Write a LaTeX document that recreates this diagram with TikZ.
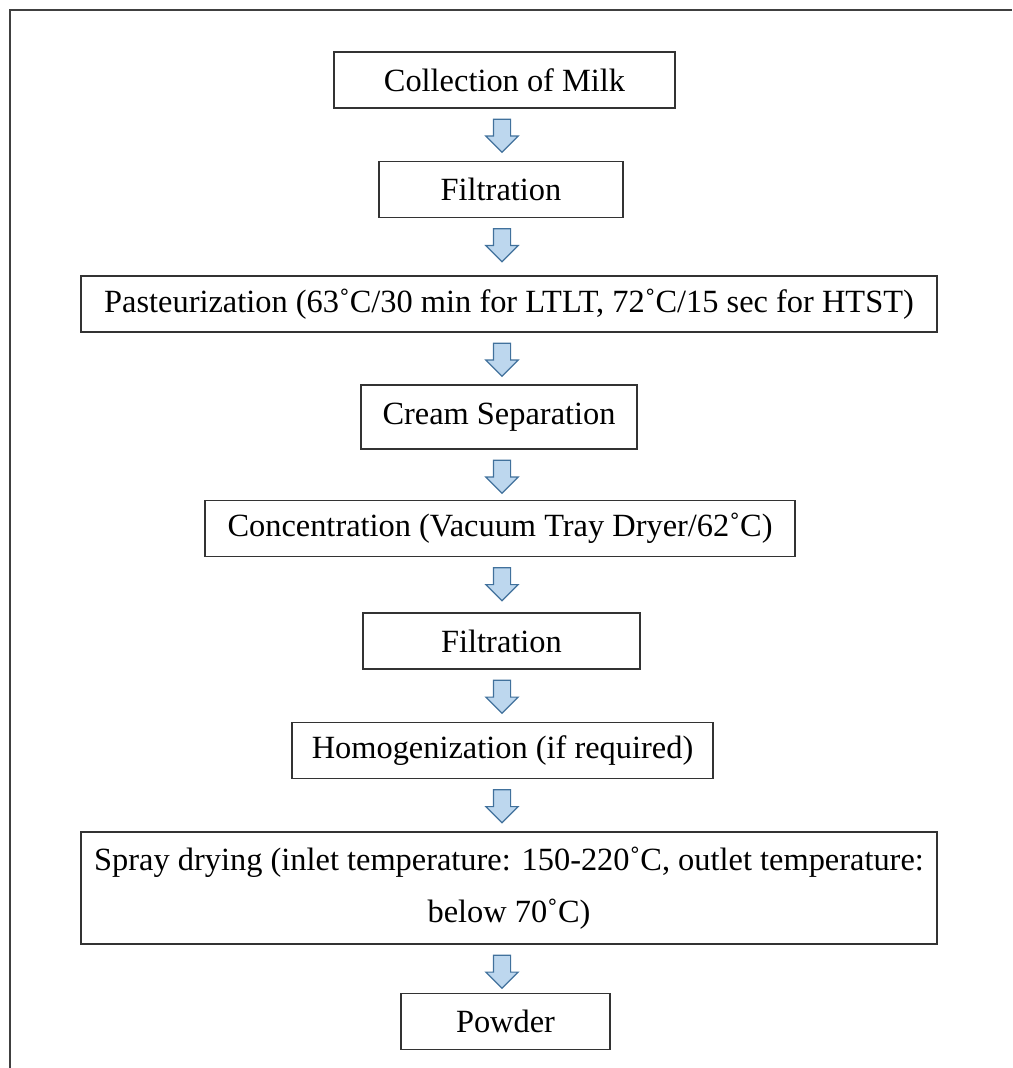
\documentclass[tikz,border=0pt]{standalone}
\usepackage{fontspec}
\setmainfont{Liberation Serif}
\usetikzlibrary{
  shapes.arrows, % Shape "single arrow"
  calc,          % Offsets $(a)+(0,1)$
}
\definecolor{arrowfill}{RGB}{189,215,238}
\definecolor{arrowline}{RGB}{65,113,156}
\def\myboxh{28pt}
\def\mygap{10}
\tikzset{
  x=0.5pt, y=-0.5pt,
  font=\fontsize{16.2pt}{26pt}\selectfont,
  my box/.style={
    draw=black!80,
    line width=0.6pt,
    minimum height=\myboxh,
    inner sep=0pt,
    align=center,
    rectangle
  },
  my arrow/.style={
    single arrow,
    shape border rotate=270,
    anchor=tail,
    draw=arrowline,
    fill=arrowfill,
    line width=0.6pt,
    inner sep=4pt,
    single arrow head extend=3.75pt,
    minimum height=16.5pt
  },
  frame/.style={
    draw=black!75,
    line width=1pt
  }
}
\begin{document}
\begin{tikzpicture}
\useasboundingbox (0,0) rectangle (1012,1068);
\draw[frame] (10,1068) -- (10,10) -- (1012,10);
% steps
\node[my box, minimum width=170.5pt] (collect) at (504.5,80)   {Collection of Milk};
\node[my box, minimum width=122pt]   (filter1) at (501,189.5)  {Filtration};
\node[my box, minimum width=428pt]   (pasteur) at (509,304)    {Pasteurization (63˚C/30 min for LTLT, 72˚C/15 sec for HTST)};
\node[my box, minimum width=138pt, minimum height=32pt] (cream) at (499,417) {Cream Separation};
\node[my box, minimum width=295pt]   (concen)  at (500,528.5)  {Concentration (Vacuum Tray Dryer/62˚C)};
\node[my box, minimum width=138.5pt] (filter2) at (501.5,641)  {Filtration};
\node[my box, minimum width=210.5pt] (homog)   at (502.5,750.5) {Homogenization (if required)};
\node[my box, minimum width=428pt, minimum height=56pt] (spray) at (509,888)
  {Spray drying (inlet temperature: 150-220˚C, outlet temperature:\\ below 70˚C)};
\node[my box, minimum width=104.5pt] (powder)  at (505.5,1021.5) {Powder};
% arrows between steps
\foreach \a in {collect, filter1, pasteur, cream, concen, filter2, homog, spray}
  \node[my arrow] (arr-\a) at ($(502,0 |- \a.south)+(0,\mygap)$) {};
\end{tikzpicture}
\end{document}
